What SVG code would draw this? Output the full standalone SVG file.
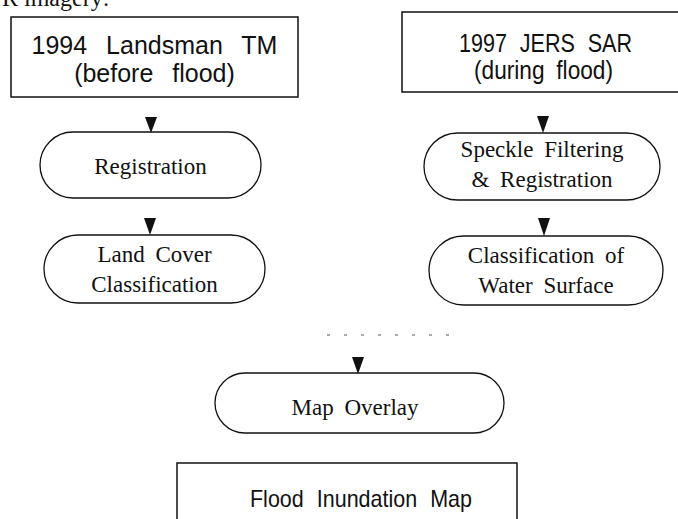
<svg xmlns="http://www.w3.org/2000/svg" width="678" height="519" viewBox="0 0 678 519">
<style>
.box{fill:#fff;stroke:#111;stroke-width:1.5}
.pill{fill:#fff;stroke:#111;stroke-width:1.3}
.sans{font-family:"Liberation Sans",Arial,sans-serif;fill:#111}
.serif{font-family:"Liberation Serif","Times New Roman",serif;font-size:23px;fill:#111;word-spacing:5px}
.arr{fill:#111}
</style>
<rect width="678" height="519" fill="#fff"/>
<text class="serif" x="2" y="6" style="font-size:24px;word-spacing:0">R imagery:</text>
<g id="n1">
<rect class="box" x="11" y="17" width="287" height="80"/>
<text class="sans" x="154.5" y="54" text-anchor="middle" font-size="25" word-spacing="12">1994 Landsman TM</text>
<text class="sans" x="154.5" y="82" text-anchor="middle" font-size="25" word-spacing="12">(before flood)</text>
</g>
<g id="n2">
<rect class="box" x="402" y="12" width="290" height="80"/>
<text class="sans" x="459" y="52" font-size="25" word-spacing="8" textLength="173" lengthAdjust="spacingAndGlyphs">1997 JERS SAR</text>
<text class="sans" x="474" y="79" font-size="25" word-spacing="6" textLength="139" lengthAdjust="spacingAndGlyphs">(during flood)</text>
</g>
<g id="n3">
<rect class="pill" x="40" y="132" width="221" height="66" rx="33"/>
<text class="serif" x="150.5" y="174" text-anchor="middle">Registration</text>
</g>
<g id="n4">
<rect class="pill" x="44" y="235" width="221" height="68" rx="34"/>
<text class="serif" x="154.5" y="262" text-anchor="middle">Land Cover</text>
<text class="serif" x="154.5" y="292" text-anchor="middle">Classification</text>
</g>
<g id="n5">
<rect class="pill" x="424" y="133" width="236" height="67" rx="33.5"/>
<text class="serif" x="542" y="157" text-anchor="middle">Speckle Filtering</text>
<text class="serif" x="542" y="187" text-anchor="middle">&amp; Registration</text>
</g>
<g id="n6">
<rect class="pill" x="429" y="236" width="234" height="69" rx="34.5"/>
<text class="serif" x="546" y="263" text-anchor="middle">Classification of</text>
<text class="serif" x="546" y="293" text-anchor="middle">Water Surface</text>
</g>
<g id="n7">
<rect class="pill" x="215" y="373" width="289" height="60" rx="30"/>
<text class="serif" x="355" y="415" text-anchor="middle">Map Overlay</text>
</g>
<g id="n8">
<rect class="box" x="177" y="463" width="340" height="70"/>
<text class="sans" x="250" y="507" font-size="24" word-spacing="8" textLength="222" lengthAdjust="spacingAndGlyphs">Flood Inundation Map</text>
</g>
<g id="connectors">
<polygon class="arr" points="145,117 157,117 151,133"/>
<polygon class="arr" points="144,218 156,218 150,235"/>
<polygon class="arr" points="537,116 549,116 543,133"/>
<polygon class="arr" points="538,218 550,218 544,236"/>
<polygon class="arr" points="352,357 364,357 358,374"/>
<line x1="327" y1="335" x2="452" y2="335" stroke="#555" stroke-width="1" stroke-dasharray="3,14"/>
</g>
</svg>
